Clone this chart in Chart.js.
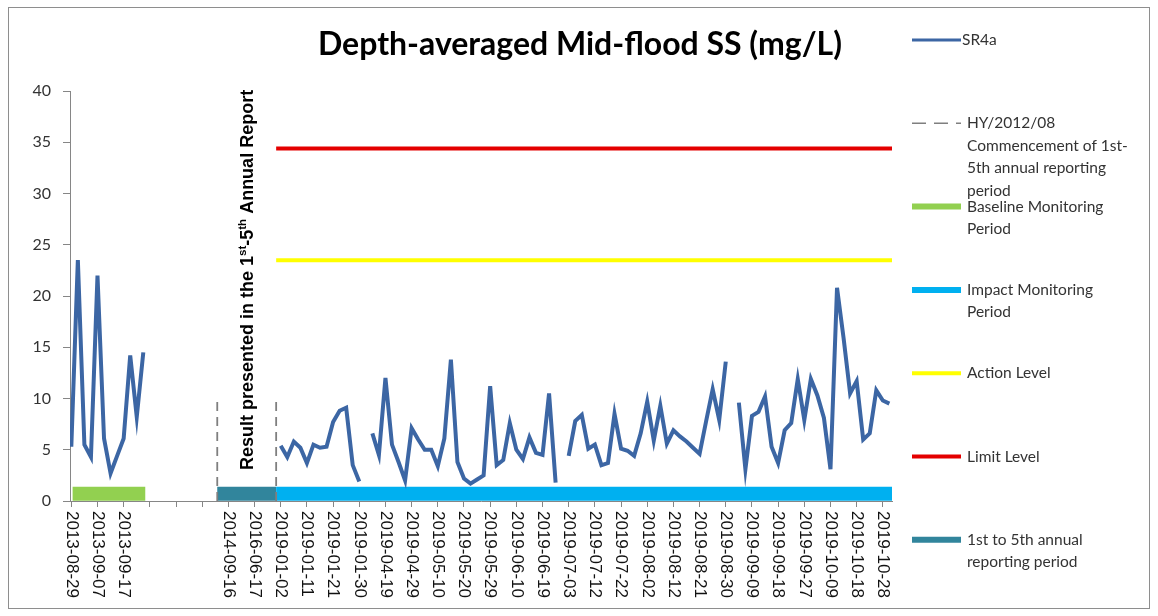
<!DOCTYPE html>
<html>
<head>
<meta charset="utf-8">
<script src="https://cdn.jsdelivr.net/npm/chart.js@4"></script>
<style>
  body { margin: 0; background: #fff; }
</style>
</head>
<body>
<canvas id="ssChart" width="1158" height="616"></canvas>
<script>
// tick labels, one every 4 samples (blank = no label on that tick)
let tickLabels = ['2013-08-29', '2013-09-07', '2013-09-17', '', '', '', '2014-09-16', '2016-06-17',
    '2019-01-02', '2019-01-11', '2019-01-21', '2019-01-30', '2019-04-19', '2019-04-29', '2019-05-10',
    '2019-05-20', '2019-05-29', '2019-06-10', '2019-06-19', '2019-07-03', '2019-07-12', '2019-07-22',
    '2019-08-02', '2019-08-12', '2019-08-21', '2019-08-30', '2019-09-09', '2019-09-18', '2019-09-27',
    '2019-10-09', '2019-10-18', '2019-10-28'];
let tickStep = 4;

// SR4a depth-averaged mid-flood SS (mg/L), one value per sample, null = no data
let sr4aValues = [
    5.3, 23.5, 5.5, 4.3, 22.0, 6.1, 2.7, 4.4, 6.1, 14.2, 8.2, 14.5,
    null, null, null, null, null, null, null, null, null, null,
    null, null, null, null, null, null, null, null, null, null,
    5.4, 4.3, 5.8, 5.2, 3.7, 5.5, 5.2, 5.3, 7.7, 8.8, 9.1, 3.5, 1.9,
    null,
    6.6, 4.5, 12.0, 5.5, 3.8, 2.0, 7.1, 6.0, 5.0, 5.0, 3.4, 6.1, 13.8, 3.8, 2.2,
    1.7, 2.1, 2.5, 11.2, 3.5, 4.0, 7.6, 5.0, 4.1, 6.2, 4.7, 4.5, 10.5, 1.8,
    null,
    4.4, 7.8, 8.4, 5.1, 5.5, 3.5, 3.7, 8.5, 5.1, 4.9, 4.4, 6.6, 9.7, 5.9, 9.3,
    5.6, 6.9, 6.3, 5.8, 5.2, 4.6, 7.8, 10.9, 7.9, 13.6,
    null,
    9.6, 3.1, 8.3, 8.7, 10.2, 5.3, 3.7, 6.9, 7.6, 11.9, 7.9, 11.9, 10.3, 8.1,
    3.1, 20.8, 15.9, 10.5, 11.7, 6.0, 6.6, 10.8, 9.8, 9.5
];

let actionLevel = 23.5;
let limitLevel = 34.4;

// periods along the sample axis [start, end]
let baselinePeriod = [0.2, 11.3];
let reportingPeriod = [22.3, 31.3];
let impactPeriod = [31.3, 125.4];
let periodBarLevel = 0.7;
let dividerTop = 10;

function spanLine(period, level) {
    return [{ x: period[0], y: level }, { x: period[1], y: level }];
}

let srPoints = sr4aValues.map(function (v, i) { return { x: i, y: v }; });
let dividerPoints = [
    { x: reportingPeriod[0], y: 0 }, { x: reportingPeriod[0], y: dividerTop },
    { x: (reportingPeriod[0] + reportingPeriod[1]) / 2, y: null },
    { x: reportingPeriod[1], y: 0 }, { x: reportingPeriod[1], y: dividerTop }
];

const decorPlugin = {
    id: 'decor',
    afterDraw(chart) {
        const ctx = chart.ctx;
        const xs = chart.scales.x;
        const ys = chart.scales.y;
        ctx.save();

        // outer frame
        ctx.strokeStyle = '#8e8e8e';
        ctx.lineWidth = 1;
        ctx.strokeRect(8.5, 7.5, 1141, 601);

        // title
        ctx.fillStyle = '#000';
        ctx.font = 'bold 32px Lato';
        ctx.textAlign = 'center';
        ctx.textBaseline = 'middle';
        ctx.fillText('Depth-averaged Mid-flood SS (mg/L)', 580, 45);

        // x tick labels, rotated clockwise
        ctx.font = '17px "Liberation Sans"';
        ctx.fillStyle = '#111';
        ctx.textAlign = 'left';
        tickLabels.forEach(function (lab, k) {
            if (!lab) return;
            const px = xs.getPixelForValue(k * tickStep);
            ctx.save();
            ctx.translate(px, ys.bottom + 10);
            ctx.rotate(Math.PI / 2);
            ctx.fillText(lab, 0, 0);
            ctx.restore();
        });

        // note between the dashed lines
        const cx = (xs.getPixelForValue(reportingPeriod[0]) + xs.getPixelForValue(reportingPeriod[1])) / 2;
        const parts = [['Result presented in the 1', false], ['st', true], ['-5', false], ['th', true], [' Annual Report', false]];
        ctx.save();
        ctx.translate(cx + 1, 470);
        ctx.rotate(-Math.PI / 2);
        ctx.fillStyle = '#000';
        let off = 0;
        parts.forEach(function (p) {
            ctx.font = p[1] ? 'bold 11.5px "Liberation Sans"' : 'bold 18px "Liberation Sans"';
            ctx.fillText(p[0], off, p[1] ? -5 : 0);
            off += ctx.measureText(p[0]).width;
        });
        ctx.restore();

        // legend
        ctx.font = '15.5px Lato';
        ctx.fillStyle = '#333';
        ctx.textAlign = 'left';
        chart.data.datasets.forEach(function (ds, k) {
            const y = 40 + k * 83.3;
            ctx.save();
            ctx.strokeStyle = ds.borderColor;
            ctx.lineWidth = ds.legendWidth;
            ctx.setLineDash(ds.legendDash || []);
            ctx.beginPath();
            ctx.moveTo(912, y);
            ctx.lineTo(961, y);
            ctx.stroke();
            ctx.restore();
            ds.legendLines.forEach(function (t, j) {
                ctx.fillText(t, ds.legendTextX, y + j * 22.5);
            });
        });

        ctx.restore();
    }
};

let ctx = document.getElementById('ssChart').getContext('2d');
let ssChart = new Chart(ctx, {
    type: 'line',
    data: {
        datasets: [{
            label: 'SR4a',
            data: srPoints,
            borderColor: '#3c66a4',
            borderWidth: 4,
            legendWidth: 3,
            legendTextX: 962,
            legendLines: ['SR4a']
        }, {
            label: 'HY/2012/08 Commencement of 1st-5th annual reporting period',
            data: dividerPoints,
            borderColor: '#7f7f7f',
            borderWidth: 1.8,
            borderDash: [9, 6],
            legendDash: [14, 8],
            legendWidth: 1.5,
            legendTextX: 967,
            legendLines: ['HY/2012/08', 'Commencement of 1st-', '5th annual reporting', 'period']
        }, {
            label: 'Baseline Monitoring Period',
            data: spanLine(baselinePeriod, periodBarLevel),
            borderColor: '#92d050',
            borderWidth: 14,
            legendWidth: 6,
            legendTextX: 967,
            legendLines: ['Baseline Monitoring', 'Period']
        }, {
            label: 'Impact Monitoring Period',
            data: spanLine(impactPeriod, periodBarLevel),
            borderColor: '#00b0f0',
            borderWidth: 14,
            legendWidth: 6,
            legendTextX: 967,
            legendLines: ['Impact Monitoring', 'Period']
        }, {
            label: 'Action Level',
            data: spanLine(impactPeriod, actionLevel),
            borderColor: '#ffff00',
            borderWidth: 4,
            legendWidth: 4,
            legendTextX: 967,
            legendLines: ['Action Level']
        }, {
            label: 'Limit Level',
            data: spanLine(impactPeriod, limitLevel),
            borderColor: '#e40000',
            borderWidth: 4,
            legendWidth: 4,
            legendTextX: 967,
            legendLines: ['Limit Level']
        }, {
            label: '1st to 5th annual reporting period',
            data: spanLine(reportingPeriod, periodBarLevel),
            borderColor: '#31859c',
            borderWidth: 14,
            legendWidth: 6,
            legendTextX: 967,
            legendLines: ['1st to 5th annual', 'reporting period']
        }]
    },
    plugins: [decorPlugin],
    options: {
        responsive: false,
        animation: false,
        spanGaps: false,
        elements: {
            point: { radius: 0 },
            line: { tension: 0, fill: false }
        },
        layout: {
            padding: { left: 8, right: 266, top: 91, bottom: 0 }
        },
        plugins: {
            legend: { display: false },
            title: { display: false },
            tooltip: { enabled: false }
        },
        scales: {
            x: {
                type: 'linear',
                min: -0.2,
                max: 125.4,
                afterBuildTicks: function (scale) {
                    scale.ticks = tickLabels.map(function (lab, k) { return { value: k * tickStep }; });
                },
                afterFit: function (scale) { scale.height = 115; },
                ticks: { display: false },
                grid: { drawOnChartArea: false, tickLength: 6, color: '#868686' },
                border: { color: '#868686' }
            },
            y: {
                min: 0,
                max: 40,
                ticks: {
                    stepSize: 5,
                    padding: 12,
                    color: '#333',
                    font: { family: 'Lato', size: 16 }
                },
                afterFit: function (scale) { scale.width = 62; },
                grid: { drawOnChartArea: false, tickLength: 7, color: '#868686' },
                border: { color: '#868686' }
            }
        }
    }
});
</script>
</body>
</html>
